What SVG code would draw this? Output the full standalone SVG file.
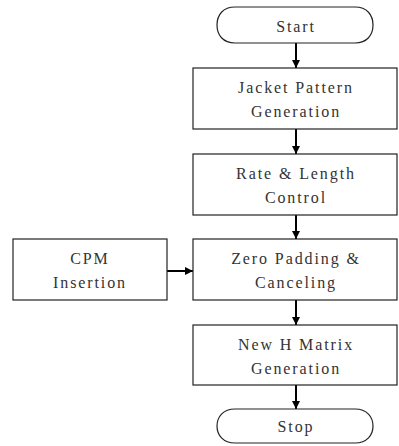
<svg xmlns="http://www.w3.org/2000/svg" width="399" height="446" viewBox="0 0 399 446">
<style>
.box{fill:#fff;stroke:#222;stroke-width:1.2}
.t{font-family:"Liberation Serif","Times New Roman",serif;font-size:16px;fill:#333;text-anchor:middle;letter-spacing:1.9px}
.c{stroke:#000;stroke-width:2;fill:none;marker-end:url(#ah)}
</style>
<defs>
<marker id="ah" markerWidth="10" markerHeight="10" refX="8" refY="5" orient="auto" markerUnits="userSpaceOnUse">
<path d="M0,1 L8,5 L0,9 Z" fill="#000"/>
</marker>
</defs>
<rect width="399" height="446" fill="#fff"/>
<g id="connectors">
<line class="c" x1="296" y1="43" x2="296" y2="68"/>
<line class="c" x1="296" y1="129" x2="296" y2="154"/>
<line class="c" x1="296" y1="215" x2="296" y2="239"/>
<line class="c" x1="167" y1="271" x2="193" y2="271"/>
<line class="c" x1="296" y1="300" x2="296" y2="325"/>
<line class="c" x1="296" y1="385" x2="296" y2="409"/>
</g>
<g id="start">
<path class="box" d="M235,7 H355 C367,7 373,15 373,25 C373,35 367,43 355,43 H235 C223,43 217,35 217,25 C217,15 223,7 235,7 Z"/>
<text class="t" x="296" y="32">Start</text>
</g>
<g id="jacket">
<rect class="box" x="193" y="68" width="204" height="61"/>
<text class="t" x="296" y="93">Jacket Pattern</text>
<text class="t" x="296" y="117">Generation</text>
</g>
<g id="rate">
<rect class="box" x="193" y="154" width="204" height="61"/>
<text class="t" x="296" y="179">Rate &amp; Length</text>
<text class="t" x="296" y="203">Control</text>
</g>
<g id="zero">
<rect class="box" x="193" y="239" width="204" height="61"/>
<text class="t" x="296" y="264">Zero Padding &amp;</text>
<text class="t" x="296" y="288">Canceling</text>
</g>
<g id="cpm">
<rect class="box" x="13" y="239" width="154" height="61"/>
<text class="t" x="90" y="264">CPM</text>
<text class="t" x="90" y="288">Insertion</text>
</g>
<g id="newh">
<rect class="box" x="193" y="325" width="204" height="60"/>
<text class="t" x="296" y="350">New H Matrix</text>
<text class="t" x="296" y="374">Generation</text>
</g>
<g id="stop">
<path class="box" d="M235,409 H355 C367,409 373,417 373,426 C373,435 367,443 355,443 H235 C223,443 217,435 217,426 C217,417 223,409 235,409 Z"/>
<text class="t" x="296" y="432">Stop</text>
</g>
</svg>
